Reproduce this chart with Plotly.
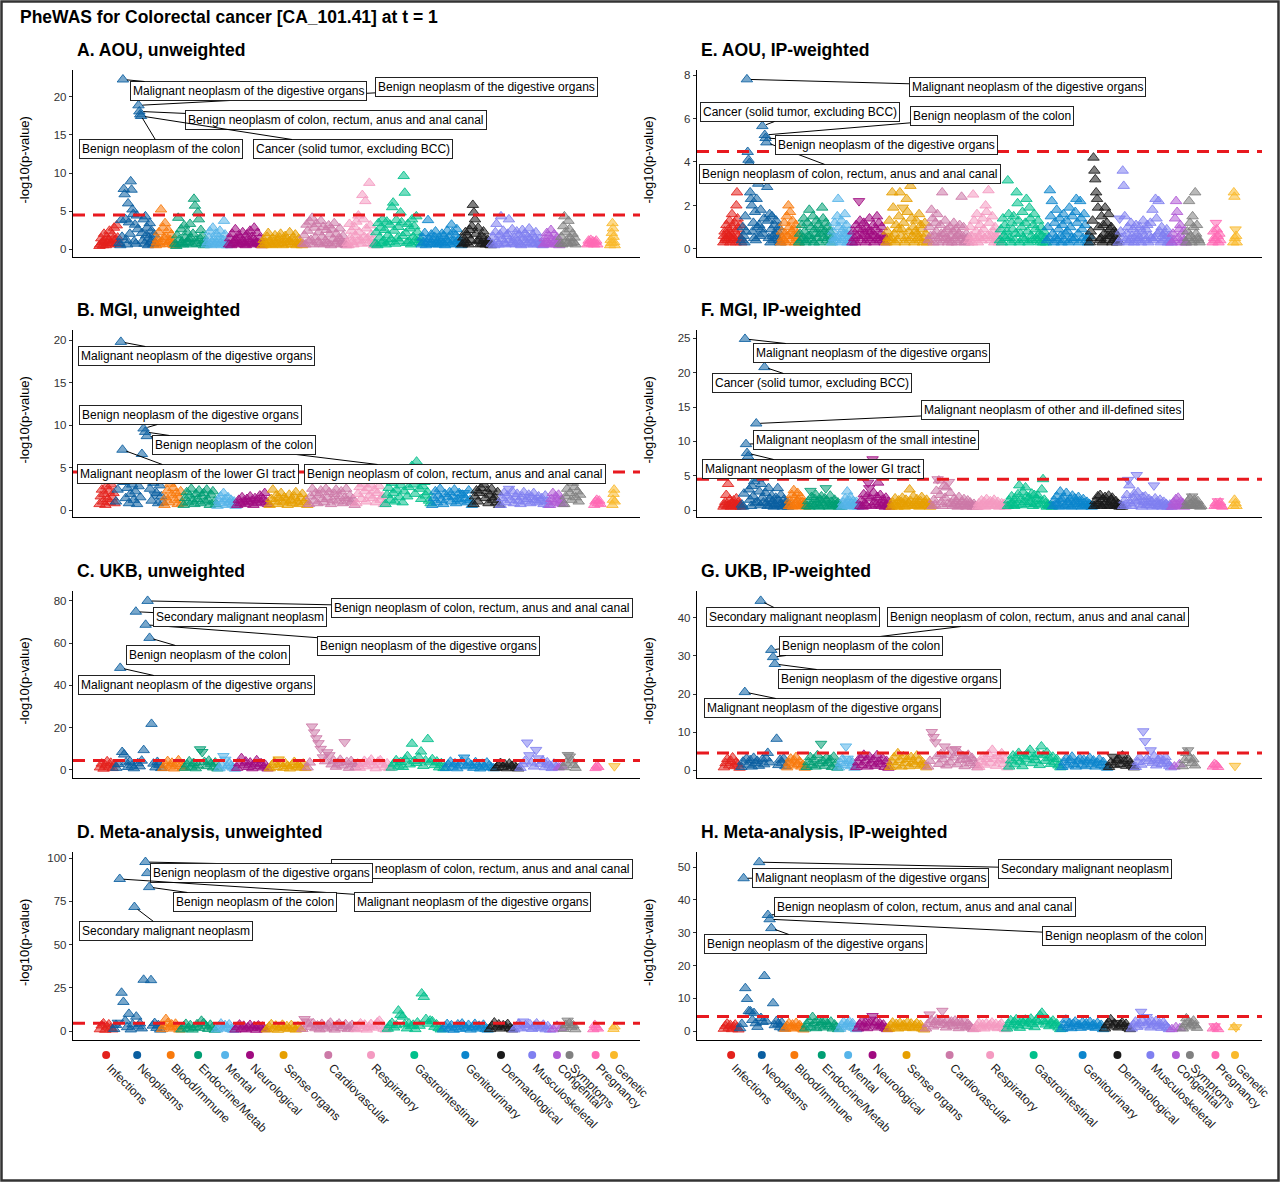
import plotly.graph_objects as go

# ---------------------------------------------------------------- data
CATEGORIES = ["Infections", "Neoplasms", "Blood/Immune", "Endocrine/Metab", "Mental",
              "Neurological", "Sense organs", "Cardiovascular", "Respiratory",
              "Gastrointestinal", "Genitourinary", "Dermatological", "Musculoskeletal",
              "Congenital", "Symptoms", "Pregnancy", "Genetic"]

PANEL_TITLES = ["A. AOU, unweighted", "E. AOU, IP-weighted",
                "B. MGI, unweighted", "F. MGI, IP-weighted",
                "C. UKB, unweighted", "G. UKB, IP-weighted",
                "D. Meta-analysis, unweighted", "H. Meta-analysis, IP-weighted"]

MAIN_TITLE = "PheWAS for Colorectal cancer [CA_101.41] at t = 1"
Y_TITLE = "-log10(p-value)"
THRESHOLD = 4.48

# number of phecodes tested per category (sets the width of each category block)
N_A = [70, 127, 68, 110, 78, 117, 142, 155, 97, 162, 142, 104, 181, 58, 57, 38, 18]
N_B = [56, 168, 66, 117, 68, 112, 136, 164, 101, 161, 143, 94, 171, 49, 60, 26, 10]
N_C = [56, 161, 74, 119, 60, 112, 130, 179, 109, 186, 172, 84, 130, 20, 46, 14, 4]
N_D = [49, 164, 66, 122, 63, 108, 122, 185, 108, 189, 161, 84, 130, 40, 46, 21, 7]
N_E = [65, 136, 63, 116, 70, 119, 147, 142, 107, 164, 150, 100, 186, 51, 49, 30, 14]
N_F = [64, 164, 63, 122, 63, 108, 143, 157, 105, 157, 143, 101, 171, 49, 56, 31, 14]
N_G = [61, 161, 68, 114, 60, 119, 133, 179, 105, 186, 164, 94, 130, 35, 49, 25, 14]
N_H = [57, 158, 70, 122, 63, 108, 130, 172, 112, 193, 150, 94, 137, 42, 56, 25, 14]

# -log10(p) per phecode, in phecode order; negative sign = inverse association (down triangle)
VALS_A = [
    [0.4, 0.6, 1.4, 0.9, 0.5, 2.0, 1.1, 0.5, 1.6, 0.8, 1.1, 2.4, 0.6, 0.8, 1.9, 1.3, 2.8, 1.2, 0.7, 3.1, 1.5, 0.7],
    [0.8, 0.5, 3.8, 1.6, 22.3, 7.9, 7.2, 3.9, 1.2, 0.6, 6.0, 3.5, 2.0, 8.9, 7.8, 5.2, 4.6, 1.0, 3.2, 0.7, 4.4, 2.6, 18.9, 18.1, 17.7, 17.5, 2.1, 1.1, 3.9, 0.7, 4.3, 1.8, 2.8, 0.5, 1.5, 3.4, 0.9, 2.4, 1.3, 0.6, 1.9, 0.8],
    [0.5, 0.9, 1.3, 2.2, 0.6, 5.2, 1.0, 2.8, 1.5, 3.4, 1.6, 0.7, 2.5, 0.9, 1.2, 1.9, 0.6, 1.0, 0.5],
    [0.7, 0.4, 1.8, 4.1, 1.2, 0.6, 2.6, 0.9, 0.6, 3.1, 1.5, 0.8, 2.2, 0.9, 1.3, 3.3, 1.4, 0.6, 2.0, 6.6, 5.7, 1.1, 0.7, 4.8, 3.9, 1.4, 2.5, 0.8, 1.7, 0.5, 1.0, 0.6],
    [0.6, 0.9, 1.5, 2.3, 0.5, 0.9, 2.8, 1.3, 0.6, 2.0, 0.7, 1.1, 1.6, 2.4, 0.8, 0.5, 1.2, 3.7, 1.9, 0.9, 0.5, 0.7],
    [0.6, 1.4, 0.5, 2.0, 0.8, 1.1, 2.6, 1.2, 0.6, 1.8, 0.7, 1.5, 0.9, 2.2, 1.0, 0.6, 0.5, 1.9, 1.3, 0.8, 2.4, 0.9, 1.6, 0.6, 2.8, 1.1, 0.7, 2.1, 0.8, 1.4, 0.6, 0.5],
    [0.5, 1.2, 0.8, 0.6, 1.6, 2.1, 1.0, 0.6, 0.5, 1.4, 0.9, 1.8, 0.6, 1.1, 0.7, 1.5, 2.0, 0.8, 0.5, 1.2, 1.7, 0.6, 1.3, 0.9, 2.2, 0.9, 0.6, 1.5, 1.0, 1.9, 0.5, 0.7, 1.3, 0.8, 0.6, 0.5],
    [0.7, 1.8, 0.6, 3.2, 2.4, 1.0, 3.6, 1.2, 4.1, 0.6, 2.8, 1.5, 3.3, 0.9, 2.2, 0.7, 3.7, 1.6, 2.9, 0.6, 1.1, 2.5, 0.8, 3.1, 1.9, 0.5, 2.6, 1.3, 3.4, 0.7, 2.0, 1.0, 1.4, 2.7, 0.6, 1.0, 1.7, 0.8, 0.6, 0.5],
    [0.8, 0.5, 3.3, 1.5, 2.4, 0.9, 0.6, 2.9, 1.8, 3.6, 1.0, 4.4, 2.2, 1.2, 0.7, 7.1, 3.9, 1.6, 6.3, 2.7, 1.4, 0.8, 8.7, 3.1, 1.9, 1.1, 0.7, 0.5],
    [0.7, 2.2, 0.5, 3.4, 1.5, 2.8, 0.8, 3.9, 1.1, 2.5, 0.6, 3.6, 1.8, 0.9, 3.2, 1.3, 5.5, 6.1, 2.4, 0.7, 3.8, 1.4, 2.9, 1.0, 4.8, 3.5, 1.7, 9.6, 7.4, 2.1, 0.8, 3.3, 1.0, 2.7, 0.6, 3.9, 1.6, 3.0, 1.2, 4.3, 2.2, 0.9, 1.4, 0.8],
    [0.6, 1.5, 0.9, 2.1, 0.5, 0.9, 3.8, 1.3, 0.7, 1.9, 0.7, 1.2, 1.6, 2.3, 0.6, 1.0, 0.6, 1.4, 0.9, 2.0, 0.8, 1.7, 0.5, 1.2, 2.4, 0.9, 1.5, 0.6, 3.2, 2.2, 1.1, 0.7, 1.8, 2.6, 1.0, 1.3, 0.8, 0.5],
    [0.6, 1.5, 0.8, 2.2, 0.9, 1.8, 0.6, 2.5, 1.2, 3.0, 5.8, 4.8, 3.9, 2.0, 1.0, 2.8, 1.1, 0.6, 1.7, 0.7, 2.3, 1.4, 0.6, 0.8, 1.2, 1.0, 0.6, 0.5],
    [0.7, 1.6, 0.5, 2.2, 3.3, 1.0, 0.6, 1.9, 4.3, 1.3, 2.4, 0.8, 0.6, 1.7, 2.0, 3.9, 1.2, 0.7, 2.6, 0.9, 1.5, 0.6, 2.3, 1.1, 1.8, 0.7, 0.5, 2.5, 1.4, 2.0, 0.9, 0.6, 1.6, 2.7, 1.2, 0.8, 1.9, 0.6, 1.4, 2.2, 1.0, 0.6, 1.3, 0.8, 0.6, 0.5],
    [0.6, 1.4, 0.8, 2.1, 0.9, 1.7, 0.6, 2.5, 1.2, 0.7, 1.9, 1.0, 0.6, 1.5, 0.8, 0.5],
    [0.7, 1.6, 0.6, 3.0, 4.3, 2.2, 1.1, 0.7, 3.7, 2.6, 1.4, 0.8, 2.0, 0.9, 1.5, 0.6],
    [0.6, 1.1, 0.8, 1.2, 0.7, 1.0, 0.6, 0.9, 1.1, 0.6],
    [0.5, 1.2, 0.8, 2.1, 3.4, 2.7, 1.6, 0.9, 0.5],
]
VALS_B = [
    [0.7, 1.6, 2.4, 1.0, 1.9, 0.6, 2.8, 1.3, 2.2, 0.9, 3.0, 1.5, 2.0, 0.8],
    [1.0, 2.4, 3.5, 19.8, 7.1, 3.3, 1.4, 2.6, 0.8, 1.9, 3.0, 1.2, 2.2, 0.7, 2.8, 1.5, 6.6, 9.6, 9.2, 8.7, 4.2, 2.5, 1.1, 3.2, -1.8, 2.0, 0.8, 2.9, 1.6, 0.9],
    [0.6, 1.5, 2.3, 0.9, 3.1, 1.8, 2.6, 1.2, 2.0, 0.7, 1.4, 2.2, 0.8],
    [0.6, 1.4, 2.1, 0.9, 1.7, 2.5, 1.1, 0.7, 1.9, 1.3, 2.3, 0.8, 1.6, 2.0, 1.0, 2.4, 1.2, 0.6, 1.8, 2.2, 1.0, 0.7],
    [0.5, 1.1, 1.6, 0.8, 2.0, 1.3, 0.6, 1.5, 0.9, 1.2, 0.7, 1.0, 0.5],
    [0.6, 1.2, 0.8, 1.5, 1.0, 0.7, 1.3, 0.9, 1.6, 1.1, 0.6, 1.4, 0.8, 1.2, 1.7, 0.9, 1.3, 2.0, 1.0, 0.7],
    [0.6, 1.3, 2.4, 1.0, 1.7, 0.7, 1.4, 2.0, 0.9, 1.5, 1.1, 0.6, 1.8, 1.2, 0.8, 1.6, 2.1, 1.0, 0.7, 1.4, 1.9, 0.9, 1.2, 0.6],
    [0.7, 1.6, 2.5, 1.1, 2.0, 0.8, 1.8, 2.3, 1.3, 0.9, 2.5, 1.5, 2.1, 0.7, 1.2, 1.9, 2.4, 1.0, 1.6, 2.2, 0.8, 1.4, 2.5, 1.1, 1.7, 0.9, 1.3, 0.6],
    [0.8, 1.9, 2.7, 1.3, 3.1, 2.2, 1.0, 2.6, 1.7, 3.0, 1.4, 2.3, 0.9, 2.0, 2.8, 1.2, 1.6, 0.7],
    [0.7, 1.8, 2.6, 1.2, 3.2, 2.0, 1.0, 2.4, 3.7, 1.5, 2.9, 0.9, 2.2, 3.4, 1.6, 2.7, 4.3, 5.2, 3.0, 1.9, 5.7, 3.5, 2.5, 1.3, 2.8, 3.3, 1.7, 2.1, 1.1, 0.8],
    [0.6, 1.4, 2.2, 0.9, 1.7, 2.5, 1.2, 0.7, 1.9, 3.5, 1.5, 2.1, 1.0, 1.6, 2.4, 0.8, 1.3, 2.0, 1.1, 1.8, -2.0, 1.4, 0.9, 2.3, 1.2, 0.6],
    [0.7, 1.6, 2.3, 1.0, 2.0, 2.6, 3.5, 3.0, 1.4, 2.2, 0.8, 1.8, 2.5, 1.2, 1.5, 0.9, 2.1, 0.6],
    [0.6, 1.4, 2.0, 0.9, 1.7, -2.5, 1.2, 2.2, 0.8, 1.5, 1.9, 1.1, 0.7, 1.6, 2.1, 1.0, 1.3, 1.8, 0.8, 1.5, 2.0, 1.2, 0.9, 1.6, 1.1, 1.4, 0.7, 1.7, 1.0, 0.6],
    [0.6, 1.3, 2.0, 0.9, 1.6, 1.1, 1.8, 0.8, 1.2, 0.7],
    [0.7, 1.6, 2.5, 3.5, 2.0, 1.2, 3.2, 2.7, 1.5, 2.2, 1.0, 1.8],
    [0.6, 1.0, 1.2, 0.8, 1.1, 0.7],
    [0.6, 1.2, 1.9, 2.4, 1.0],
]
VALS_C = [
    [1.2, 3.0, 0.6, 2.2, 4.1, 1.5, 3.4, 0.9, 2.6],
    [1.0, 2.8, 48.3, 8.5, 7.3, 3.6, 1.4, 4.0, 2.1, 0.8, 74.9, 3.2, 1.7, 4.4, 9.4, 68.7, 80.0, 62.5, 21.8, 3.0, 1.2, 3.8, 2.4, 0.9],
    [0.9, 2.5, 4.2, 1.6, 3.4, 0.7, 2.8, 4.6, 1.9, 1.1],
    [1.0, 2.6, 4.1, 1.5, 3.3, 0.8, 2.2, -9.8, -8.5, 3.8, 1.8, 4.4, 2.9, 1.2, 3.5, 0.7],
    [0.8, 2.4, -6.6, -4.9, 1.6, 3.3, 2.0, 1.1, 0.6],
    [1.0, 3.1, 5.6, 2.2, 4.0, 1.4, 3.5, 0.8, 2.7, 4.6, 1.8, 3.2, 1.2, 2.4, 0.7],
    [0.8, 2.3, 3.6, 1.4, -5.0, 2.8, 1.0, 3.1, 1.9, 0.7, 2.5, 3.8, 1.5, 2.2, 1.1, 3.0, 0.9],
    [1.2, 3.5, -20.6, -17.8, -15.0, -12.7, -10.0, -6.0, 4.1, -8.4, -7.0, 2.6, 4.4, 1.5, 3.2, 4.8, 2.1, -13.2, 3.8, 1.0, 4.2, 2.7, 1.4, 3.0],
    [1.0, 2.8, 4.3, 1.7, 3.6, 4.9, 2.2, 0.8, 3.9, 4.6, 2.5, 1.3, 3.1, 0.9],
    [1.1, 3.0, 4.6, 2.0, 3.8, 1.4, 4.9, 6.5, 2.6, 12.4, 4.2, 3.3, 6.0, 8.7, 1.9, 4.5, 14.6, 3.6, 5.1, 2.3, 4.0, 1.2, 3.2, 0.9],
    [0.9, 2.6, 3.9, 1.5, 3.1, 0.8, 2.2, 4.0, -5.9, 1.7, 3.4, 2.4, 1.0, 3.7, 2.0, 0.7, 2.9, 1.3, 3.5, 2.1, 1.2, 0.8],
    [0.9, 2.2, 3.3, 1.4, 2.7, 0.8, 3.0, 1.9, 2.4, 1.1, 0.7],
    [1.0, 2.7, 4.2, -13.0, -7.0, 3.5, 1.6, -9.5, -5.5, 2.9, 4.4, 1.3, 3.6, 2.2, 0.9, 3.0, 1.4],
    [1.2, 2.0],
    [1.3, 3.4, -7.1, -6.4, 4.5, 2.4, 1.0],
    [0.9, 2.0, 1.4],
    [-1.8],
]
VALS_D = [
    [1.0, 3.2, 4.4, 0.7, 2.5, 3.8, 1.6, 0.9],
    [1.2, 3.5, -4.8, 87.9, 22.1, 16.8, 5.9, 2.2, 9.9, 0.9, 3.8, 71.7, 8.3, 2.6, 4.4, 1.5, 29.6, 97.7, 91.3, 83.2, 29.4, 3.1, 4.6, 1.8, 3.4, 0.8],
    [1.1, 3.0, 6.9, 4.6, 2.2, 3.8, 1.4, 4.2, 2.6, 0.8],
    [0.9, 2.7, 4.1, 1.5, 3.4, 0.8, 2.3, 3.9, 1.8, 5.9, 4.6, 3.0, 1.2, 3.6, 2.0, 0.7],
    [0.9, 2.6, 4.3, 1.4, 3.4, 2.0, 3.8, 1.1, 0.7],
    [0.8, 2.4, 3.7, 1.3, 3.0, 0.9, 2.1, 3.5, 1.6, 2.7, 0.7, 3.2, 1.9, 2.5, 1.0],
    [0.9, 2.5, 3.9, 1.4, 3.1, 0.7, 2.2, 3.6, 1.8, 2.8, 1.1, 3.4, 2.0, 0.8, 2.6, 1.3],
    [1.2, -6.9, -5.5, 3.8, 2.4, 4.5, 1.6, 3.2, 0.9, 4.1, 2.7, 1.4, 3.6, 4.8, 2.0, 0.8, 3.3, 4.3, 1.8, 2.9, 3.9, 1.1, 2.5, 3.5, 1.5],
    [1.0, 2.9, 4.4, 1.6, 3.7, 0.8, 2.4, 4.0, 1.9, 3.2, 4.9, 5.9, 2.7, 1.3, 0.9],
    [1.3, 3.5, 4.7, 2.0, 3.3, 11.8, 9.3, 8.3, 3.9, 1.5, 4.4, 2.8, 3.6, 1.1, 4.9, 3.0, 21.7, 19.7, 6.9, 4.2, 6.0, 5.6, 2.4, 3.8, 1.7, 0.9],
    [0.9, 2.6, 4.0, 1.5, 3.3, 0.7, 2.2, 3.8, 1.2, 4.3, 2.7, 1.8, 3.5, 0.8, 2.4, 4.1, 1.4, 3.0, 2.0, 3.6, 1.1, 0.8],
    [1.1, 3.0, 4.9, 2.2, 3.8, 1.4, 3.3, 2.6, 4.0, 1.7, 0.9],
    [0.9, 2.6, 4.2, 1.5, -5.5, 3.4, 2.0, 3.9, 1.2, 3.0, 4.4, 1.8, 2.5, 3.6, 1.0, 2.8, 0.8],
    [1.0, 3.0, 1.8],
    [1.2, 3.5, -6.0, 4.6, 2.4, 3.2, 1.0],
    [1.0, 3.5, 2.2, 1.4],
    [1.2, 2.6],
]
VALS_E = [
    [0.3, 0.6, 0.8, 0.4, 0.5, 1.1, 0.7, 0.4, 0.9, 0.6, 1.3, 0.3, 0.7, 0.5, 1.6, 1.0, 0.4, 0.5, 1.2, 0.8, 0.3, 2.0, 2.6, 1.4, 0.6, 0.9, 0.4, 1.1, 0.5, 0.3],
    [0.4, 1.0, 0.6, 0.3, 1.5, 0.8, 7.8, 4.46, 4.1, 3.95, 2.6, 2.3, 2.0, 0.8, 1.2, 0.5, 1.7, 0.4, 2.3, 1.0, 3.0, 1.1, 0.6, 1.8, 0.9, 5.65, 0.7, 1.4, 5.24, 5.1, 4.9, 2.85, 1.3, 0.5, 1.6, 0.3, 0.9, 1.5, 0.6, 0.4, 1.1, 0.7, 1.3, 0.5, 0.8, 1.0, 0.4, 0.3],
    [0.3, 0.8, 0.5, 0.4, 1.2, 0.7, 0.3, 1.5, 0.6, 2.0, 1.0, 1.7, 0.4, 0.8, 1.3, 0.6, 0.9, 0.3, 1.1, 0.5, 0.7, 0.3],
    [0.3, 0.7, 0.4, 1.1, 0.5, 1.4, 0.8, 0.3, 0.4, 1.2, 0.6, 1.8, 0.6, 1.0, 0.4, 1.5, 0.3, 0.9, 0.7, 1.3, 0.5, 1.1, 0.3, 0.7, 0.9, 1.9, 1.4, 0.5, 0.8, 1.2, 0.4, 1.0, 0.6, 0.8, 0.3, 0.5],
    [0.3, 0.8, 0.5, 1.2, 0.4, 0.5, 1.5, 2.3, 1.0, 0.6, 0.3, 1.3, 0.4, 0.9, 0.7, 1.6, 0.7, 1.1, 0.3, 0.5, 0.8, 0.6, 0.4, 0.3],
    [0.3, 0.8, 0.5, 0.3, 1.1, 0.6, 0.9, -2.2, 1.3, 0.4, 0.6, 0.9, 1.2, 0.7, 0.3, 1.0, 0.5, 0.8, 1.4, 0.4, 0.8, 0.6, 1.1, 0.3, 0.6, 0.9, 1.5, 0.5, 1.2, 0.4, 0.7, 1.0, 0.4, 0.6, 0.3, 0.5],
    [0.3, 0.8, 0.5, 1.3, 0.4, 0.5, 2.6, 1.9, 0.7, 0.3, 1.1, 0.4, 0.9, 1.5, 2.6, 0.6, 0.9, -1.9, 1.2, 0.3, 0.5, 2.3, 1.7, 0.8, 0.4, 2.9, 1.4, 0.6, 1.0, 0.3, 0.8, 1.3, 0.7, 0.5, 1.6, 0.4, 1.1, 0.9, 0.3, 0.5, 1.2, 0.7, 0.3, 0.4],
    [0.4, 1.0, 0.6, 1.8, 1.4, 0.3, 0.6, 1.2, 0.8, 1.6, 0.3, 0.5, 1.1, 0.7, 2.6, 0.4, 0.7, 1.3, 0.5, 0.9, 0.3, 0.4, 1.0, 0.6, 0.3, 0.8, 1.2, 0.5, 0.9, 0.3, 0.6, 0.7, 1.1, 0.4, 2.4, 0.6, 1.0, 0.3, 0.4, 0.7, 0.5, 0.3],
    [0.4, 1.0, 0.6, 0.3, 2.5, 1.3, 0.5, 0.8, 1.6, 0.3, 0.5, 1.1, 0.7, 0.4, 1.4, 0.9, 0.5, 2.0, 1.7, 0.6, 2.7, 1.2, 0.4, 0.6, 1.5, 0.8, 0.3, 1.0, 0.5, 0.7, 0.4, 0.3],
    [0.4, 0.9, 0.3, 1.4, 0.6, 1.1, 0.5, 0.8, 3.15, 1.6, 0.5, 0.3, 1.2, 0.9, 1.5, 0.4, 0.7, 2.6, 2.1, 1.3, 0.3, 0.7, 1.0, 1.7, 0.5, 0.4, 1.2, 2.3, 0.8, 0.3, 1.9, 1.4, 0.6, 0.4, 1.1, 1.6, 0.9, 0.5, 0.4, 1.3, 0.7, 0.3, 1.0, 0.6, 0.3, 0.8, 0.5, 0.3],
    [0.4, 1.0, 0.5, 2.7, 1.5, 2.2, 0.7, 0.3, 1.2, 0.5, 1.8, 0.4, 0.9, 1.4, 0.6, 0.3, 1.1, 1.6, 0.4, 0.7, 1.3, 0.8, 0.3, 1.9, 1.0, 0.5, 1.5, 0.4, 0.5, 1.7, 2.3, 1.2, 0.7, 0.3, 2.2, 1.4, 0.9, 0.5, 1.6, 1.1, 0.4, 0.5, 0.3, 0.6],
    [0.3, 0.8, 0.5, 1.3, 4.2, 3.6, 3.2, 2.6, 2.3, 1.9, 1.0, 0.4, 0.5, 1.5, 0.3, 1.1, 0.7, 1.9, 0.4, 1.2, 0.6, 1.6, 0.9, 0.6, 1.0, 0.3, 0.4, 0.8, 0.5, 0.7, 0.3, 0.4],
    [0.3, -1.4, 0.8, 0.5, 3.6, 2.9, 1.5, 0.4, 0.7, 1.0, 0.3, 0.4, 1.2, 0.6, 0.9, 0.3, 0.5, 1.1, 0.7, 0.4, 0.5, 1.0, 0.3, 0.8, 1.3, 0.6, 0.4, 0.9, 1.1, 0.3, 0.6, 1.2, 0.5, 1.8, 0.4, 0.5, 2.3, 1.4, 0.7, 2.2, 0.8, 0.3, 1.0, 0.6, 0.4, 0.7, 0.5, 0.9, 0.3, 0.6, 0.4, 0.3],
    [0.3, 0.7, 0.4, 1.4, 2.2, 1.7, 0.5, 0.9, 1.1, 0.3, 0.5, 0.8, 0.4, 0.3],
    [0.3, 0.8, 0.5, 2.2, 1.2, 0.6, 0.3, 1.5, 1.0, 0.4, 2.6, 0.7, 1.1, 0.5, 0.4, 0.3],
    [0.3, 0.8, 0.5, 0.4, -1.2, 0.9, 0.6, 0.3, 0.7, 0.4],
    [0.3, 2.6, 2.4, 0.5, -0.9, 0.6, 0.3],
]
VALS_F = [
    [0.5, 0.8, 1.2, 2.2, 0.6, 3.8, 0.8, 1.5, 0.5, 1.0, 0.6, 1.4, 0.9, 0.5, 1.7, 0.7, 1.1, 0.6, 0.8, 0.5],
    [0.8, 0.5, 2.4, 24.9, 9.6, 8.3, 7.8, 3.0, 1.5, 0.6, 3.5, 2.0, 4.2, 1.0, 12.6, 1.2, 4.6, 2.7, 0.7, 3.8, 1.8, 1.1, 20.8, 2.5, 1.0, 0.6, 3.2, 1.6, 0.7, 2.1, 1.3, 0.5, 0.9, 1.8, 0.6, 3.2, 1.4, 0.8, 2.2, 0.8, 0.5, 1.5, 1.0, 0.6, 1.2, 0.5],
    [0.6, 1.4, 0.8, 2.2, 0.5, 2.9, 1.8, 1.0, 0.6, 2.5, 1.5, 0.8, 2.0, 0.6, 1.2, 0.7, 1.0, 0.5, 0.6],
    [0.6, 1.3, 0.5, -2.8, 1.9, 0.9, 0.6, 1.6, 2.2, 1.1, 0.7, 0.5, 1.5, 2.0, 1.0, 0.6, 1.7, -3.2, 1.4, 0.8, 0.5, 2.1, 1.2, 0.6, 0.9, 1.5, 0.7, 0.9, 1.1, 0.5, 0.7, 0.5],
    [0.5, 1.1, 0.7, 1.7, 0.8, 2.7, 0.6, 1.4, 1.9, 1.0, 0.6, 1.3, 0.5, 0.9, 1.2, 0.7, 0.5, 0.6],
    [0.6, 1.4, 0.5, 2.3, 1.0, 0.7, 2.0, -4.0, -3.2, 1.7, 0.6, -7.4, 2.5, 1.2, 0.8, 1.9, 4.0, 0.8, 2.2, 0.6, 1.5, 1.0, 0.5, 1.8, 0.7, 1.2, 0.5, 0.6],
    [0.5, 1.1, 0.7, 1.7, 0.8, 0.5, 1.4, 0.6, 1.2, 1.8, 0.9, 0.5, 1.5, 0.7, 1.0, 3.0, 1.3, 0.6, 2.0, 1.0, 0.7, 1.6, 0.8, 0.5, 1.3, 1.9, 0.6, 1.1, 0.8, 1.5, 0.7, 1.0, 0.5, 0.6],
    [0.6, 1.5, 0.8, 2.8, -4.5, 4.3, 2.2, 1.2, 0.6, 3.5, 1.8, 3.3, 0.9, -4.1, 2.5, 1.0, 0.6, 1.6, 0.8, 1.3, 0.5, 1.9, 0.7, 1.2, 0.6, 1.6, 0.9, 0.5, 1.4, 0.6, 1.1, 0.8, 0.5, 0.9, 0.6, 0.5],
    [0.5, 1.0, 0.6, 1.4, 0.7, 1.2, 0.5, 1.6, 0.9, 0.6, 1.3, 0.8, 1.1, 1.5, 0.6, 0.8, 1.2, 0.5, 0.6, 1.0, 0.7, 0.9, 0.5, 0.6],
    [0.6, 1.4, 0.8, 2.0, 1.0, 0.6, 1.7, 0.8, 2.3, 3.6, 1.5, 0.7, 2.6, 1.2, 3.3, 2.0, 0.9, 1.8, 1.1, 2.4, 0.6, 2.2, 0.9, 1.6, 2.1, 0.7, 1.3, 3.0, 4.5, 1.5, 1.0, 0.5, 0.8, 0.6, 0.7, 0.5],
    [0.6, 1.4, 0.8, 2.0, 1.0, 0.5, 2.7, 1.6, 0.8, 1.8, 0.6, 2.5, 1.2, 0.7, 1.5, 0.5, 2.1, 0.9, 1.7, 1.1, 0.6, 1.9, 1.3, 0.8, 0.5, 1.6, 1.0, 0.7, 1.2, 0.6, 0.9, 0.7, 0.5, 0.6],
    [0.6, 1.3, 0.8, 2.0, 1.0, 2.2, 0.6, 1.6, 0.8, 1.9, 1.2, 0.6, 2.1, 0.7, 1.5, 1.8, 1.0, 0.6, 1.3, 0.7, 0.9, 0.5, 0.7, 0.5],
    [0.6, 1.4, 0.8, 2.2, -4.4, 3.6, 1.0, 0.6, 1.8, 2.4, 1.3, -5.1, 2.6, 1.5, 0.8, 0.5, 1.9, 1.2, 2.0, 0.7, 1.0, 1.6, 0.7, 1.3, 0.5, -3.6, 1.7, 1.1, 0.6, 0.8, 1.5, 0.9, 0.5, 1.2, 0.7, 0.9, 0.5, 0.6, 0.8, 0.5],
    [0.5, 1.1, 0.7, 1.6, 0.8, 1.8, 0.6, 1.2, 0.7, 1.0, 0.5, 0.6],
    [0.6, 1.2, 0.7, 1.7, 0.9, -2.0, 0.6, 1.5, 1.0, 0.7, 1.3, 0.7, 0.5, 0.6],
    [0.6, 1.0, 0.7, -1.3, 0.8, 1.1, 0.6, 0.5],
    [0.6, 1.5, 1.0, 0.6],
]
VALS_G = [
    [0.7, 1.8, 2.9, 1.2, 2.4, 3.3, 1.0, 2.0, 1.5, 0.6],
    [0.8, 2.2, 20.5, 3.0, 1.4, 2.6, 0.9, 3.2, 1.8, 2.4, 1.1, 44.5, 2.8, 1.5, 3.1, 4.5, 2.0, 31.6, 29.7, 27.9, 8.2, 1.3, 2.7, 1.9, 3.0, 1.0],
    [0.7, 1.9, 3.0, 1.2, 2.5, 3.4, 1.6, 2.2, 0.9, 1.4, 0.6],
    [0.8, 2.1, 3.4, 1.3, 2.8, 0.9, 3.9, 1.7, -6.9, 2.4, 1.1, 3.2, 1.9, 2.7, 0.8, 3.5, 1.5, 0.6],
    [0.7, 1.8, 2.9, 1.3, -6.2, -3.0, 2.4, 1.0, 1.9, 0.6],
    [0.8, 2.0, 3.2, 1.3, 4.0, 2.5, 0.9, 3.5, 1.7, 2.8, 1.1, 3.9, 2.2, 1.5, 3.0, 0.8, 2.4, 0.6],
    [0.8, 2.1, 3.3, 1.2, 4.4, 2.6, 0.9, 3.6, 1.8, 2.9, 1.0, 3.4, 2.2, 1.5, 3.8, 2.5, 1.1, 2.0, 1.4, 0.7],
    [0.9, 2.4, -10.0, -8.7, -7.3, 3.6, 1.6, 4.2, 2.8, -6.2, 1.2, 3.9, 2.0, -5.2, 3.3, -5.5, 1.5, 4.5, 2.6, 3.7, 1.0, 2.9, 4.0, 1.8, 3.2, 2.3, 1.3, 0.7],
    [0.8, 2.2, 3.5, 1.4, 2.9, 4.2, 1.9, 5.3, 3.0, 1.1, 3.7, 2.5, 4.4, 1.6, 2.8, 0.7],
    [0.9, 2.5, 3.8, 1.5, 3.2, 4.5, 2.2, 1.0, 3.6, 2.8, 4.1, 5.3, 1.8, 3.4, 2.6, 4.3, 1.3, 6.2, 3.9, 2.4, 4.6, 3.1, 1.6, 3.5, 2.0, 2.9, 1.2, 0.7],
    [0.8, 2.0, 3.1, 1.2, 2.6, 3.5, 1.6, 0.9, 2.3, 3.0, 1.4, 2.7, 1.0, 2.2, 3.2, 1.5, 2.5, 0.9, 1.9, 2.8, 1.3, 2.1, 1.0, 0.6],
    [0.8, 2.0, -3.5, 1.3, 2.6, 3.0, 1.6, 3.8, 2.3, 1.1, 2.8, 1.8, 1.2, 0.7],
    [0.8, 2.1, 3.3, 1.4, -10.2, -7.6, 3.0, 2.4, -5.2, 1.9, 3.6, 1.2, 2.7, 3.1, 1.6, 2.4, 3.4, 1.9, 1.1, 0.7],
    [0.9, 1.5],
    [1.0, 2.6, 4.5, -5.2, 3.2, 1.8, 2.8, 1.2],
    [0.9, 1.6, 1.3, 0.8],
    [-1.1],
]
VALS_H = [
    [0.7, 1.6, 2.3, 1.0, 1.9, 0.6, 1.4, 2.0, 1.1, 0.5],
    [0.9, 2.2, 46.6, 13.1, 9.8, 6.1, 6.0, 3.4, 5.5, 2.4, 1.3, 51.5, 4.0, 2.8, 16.8, 3.0, 35.4, 34.1, 31.4, 8.5, 1.8, 3.1, 2.2, 1.2, 2.6, 0.8],
    [0.7, 1.6, 2.4, 1.1, 2.0, 0.8, 2.5, 1.4, 1.8, 0.9, 0.5],
    [0.8, 2.0, 3.1, 1.3, 4.3, 2.5, 0.9, 3.4, 1.7, 2.8, 1.1, 3.2, 2.2, 1.5, 2.9, 0.8, 2.0, 1.2, 0.6],
    [0.7, 1.8, 2.8, 1.2, 2.2, 3.0, 1.5, 2.4, 1.0, 0.6],
    [0.8, 2.0, 3.0, 1.3, 2.6, 0.9, 2.3, -3.5, -4.6, 1.7, 2.8, 1.1, 2.4, 1.5, 2.0, 0.9, 0.6],
    [0.7, 1.8, 2.6, 1.1, 2.2, 0.8, 2.5, 1.5, 2.0, 1.0, 2.7, 1.3, 2.3, 0.9, 1.7, 2.4, 1.2, 1.9, 0.8, 0.5],
    [0.8, 2.2, -5.1, 3.3, 1.4, 2.8, 3.6, 1.9, 3.0, -6.2, 2.4, 1.1, 3.4, 2.0, 2.9, 1.5, 3.2, 2.5, 0.9, 2.7, 1.8, 3.1, 1.3, 2.3, 1.6, 1.0, 0.6],
    [0.7, 1.7, 2.5, 1.1, 2.1, 0.8, 2.4, 1.5, 1.9, 2.6, 1.2, 2.2, 0.9, 1.8, 2.3, 1.0, 0.6],
    [0.8, 2.1, 3.3, 1.4, 2.8, 3.6, 1.9, 1.0, 3.0, 2.4, 3.5, 1.6, 2.9, 3.8, 2.2, 1.2, 3.4, 2.7, 4.8, 5.6, 3.1, 2.0, 3.6, 1.5, 2.6, 3.2, 1.8, 2.3, 1.1, 0.6],
    [0.7, 1.9, 3.5, 1.2, 2.5, 0.9, 2.2, 2.9, 1.5, 2.0, 1.0, 2.7, 1.8, 2.4, 1.3, 2.8, 1.6, 2.1, 1.0, 2.5, 1.4, 1.9, 0.6],
    [0.8, 1.9, 2.7, 3.6, 1.4, 2.3, -2.5, 1.1, 2.0, 2.6, 1.5, 2.2, 1.0, 0.6],
    [0.8, 2.0, 2.9, 1.3, 2.4, -5.9, 3.2, 1.7, -4.3, 2.6, 1.1, 2.9, 2.0, 3.1, 1.5, 2.4, 1.0, 2.7, 1.8, 1.2, 0.6],
    [0.6, 1.2, 0.9],
    [0.8, 2.0, 3.9, 2.8, 1.4, 2.4, 3.2, 1.8, 1.0],
    [0.8, -1.5, 1.2, 0.6],
    [1.2, -1.2],
]

# labelled phecodes (text, -log10 p of the labelled point)
LABELS_A = ["Benign neoplasm of the digestive organs", "Malignant neoplasm of the digestive organs",
            "Benign neoplasm of colon, rectum, anus and anal canal", "Benign neoplasm of the colon",
            "Cancer (solid tumor, excluding BCC)"]
LABEL_VALS_A = [18.9, 22.3, 18.1, 17.7, 17.5]
LABELS_B = ["Malignant neoplasm of the digestive organs", "Benign neoplasm of the digestive organs",
            "Benign neoplasm of colon, rectum, anus and anal canal", "Benign neoplasm of the colon",
            "Malignant neoplasm of the lower GI tract"]
LABEL_VALS_B = [19.8, 9.6, 8.7, 9.2, 7.1]
LABELS_C = ["Benign neoplasm of colon, rectum, anus and anal canal", "Benign neoplasm of the digestive organs",
            "Secondary malignant neoplasm", "Benign neoplasm of the colon",
            "Malignant neoplasm of the digestive organs"]
LABEL_VALS_C = [80.0, 68.7, 74.9, 62.5, 48.3]
LABELS_D = ["Benign neoplasm of colon, rectum, anus and anal canal", "Benign neoplasm of the digestive organs",
            "Malignant neoplasm of the digestive organs", "Benign neoplasm of the colon",
            "Secondary malignant neoplasm"]
LABEL_VALS_D = [97.7, 91.3, 87.9, 83.2, 71.7]
LABELS_E = ["Malignant neoplasm of the digestive organs", "Benign neoplasm of colon, rectum, anus and anal canal",
            "Benign neoplasm of the colon", "Cancer (solid tumor, excluding BCC)",
            "Benign neoplasm of the digestive organs"]
LABEL_VALS_E = [7.8, 4.9, 5.24, 5.65, 5.1]
LABELS_F = ["Malignant neoplasm of the digestive organs", "Cancer (solid tumor, excluding BCC)",
            "Malignant neoplasm of other and ill-defined sites", "Malignant neoplasm of the small intestine",
            "Malignant neoplasm of the lower GI tract"]
LABEL_VALS_F = [24.9, 20.8, 12.6, 9.6, 8.3]
LABELS_G = ["Benign neoplasm of colon, rectum, anus and anal canal", "Secondary malignant neoplasm",
            "Benign neoplasm of the colon", "Benign neoplasm of the digestive organs",
            "Malignant neoplasm of the digestive organs"]
LABEL_VALS_G = [31.6, 44.5, 29.7, 27.9, 20.5]
LABELS_H = ["Secondary malignant neoplasm", "Malignant neoplasm of the digestive organs",
            "Benign neoplasm of the colon", "Benign neoplasm of colon, rectum, anus and anal canal",
            "Benign neoplasm of the digestive organs"]
LABEL_VALS_H = [51.5, 46.6, 34.1, 35.4, 31.4]

# ---------------------------------------------------------------- styling / layout config
CAT_COLORS = ["#E3211C", "#0A5EA0", "#F8790B", "#009E73", "#56B4E9", "#A00A80", "#E69F00",
              "#CC79A7", "#F49AC1", "#00C08B", "#0B85CC", "#1A1A1A", "#7F7FF0", "#B15BD6",
              "#808080", "#FF69B4", "#F9B92B"]

W, H = 1280, 1182
COL_PX = [(73, 640), (697, 1262)]
ROW_PX = [(70, 257), (330, 517), (591, 778), (852, 1040)]
FONT = "Liberation Sans, Arial, Helvetica, sans-serif"
MARKER_SIZE = 10

# panel order: A,E,B,F,C,G,D,H
PANELS = [
    dict(row=0, col=0, n=N_A, vals=VALS_A, gaps=(38, 42), yr=(-1.05, 23.55), dt=5,
         labels=LABELS_A, lv=LABEL_VALS_A, boxes=[(486, 87), (248, 91), (336, 120), (161, 149), (353, 149)]),
    dict(row=0, col=1, n=N_E, vals=VALS_E, gaps=(42, 43), yr=(-0.37, 8.23), dt=2,
         labels=LABELS_E, lv=LABEL_VALS_E, boxes=[(1027, 87), (850, 174), (992, 116), (800, 112), (886, 145)]),
    dict(row=1, col=0, n=N_B, vals=VALS_B, gaps=(44, 38), yr=(-0.82, 21.2), dt=5,
         labels=LABELS_B, lv=LABEL_VALS_B, boxes=[(196, 356), (190, 415), (455, 474), (234, 445), (188, 474)]),
    dict(row=1, col=1, n=N_F, vals=VALS_F, gaps=(42, 35), yr=(-1.0, 26.2), dt=5,
         labels=LABELS_F, lv=LABEL_VALS_F, boxes=[(871, 353), (812, 383), (1052, 410), (866, 440), (813, 469)]),
    dict(row=2, col=0, n=N_C, vals=VALS_C, gaps=(63, 51), yr=(-3.8, 84.7), dt=20,
         labels=LABELS_C, lv=LABEL_VALS_C, boxes=[(482, 608), (428, 646), (240, 617), (208, 655), (196, 685)]),
    dict(row=2, col=1, n=N_G, vals=VALS_G, gaps=(56, 49), yr=(-2.1, 47.1), dt=10,
         labels=LABELS_G, lv=LABEL_VALS_G, boxes=[(1038, 617), (793, 617), (861, 646), (889, 679), (822, 708)]),
    dict(row=3, col=0, n=N_D, vals=VALS_D, gaps=(56, 49), yr=(-5.2, 103.5), dt=25,
         labels=LABELS_D, lv=LABEL_VALS_D, boxes=[(482, 869), (261, 873), (472, 902), (255, 902), (166, 931)]),
    dict(row=3, col=1, n=N_H, vals=VALS_H, gaps=(49, 49), yr=(-2.7, 54.6), dt=10,
         labels=LABELS_H, lv=LABEL_VALS_H, boxes=[(1085, 869), (870, 878), (1124, 936), (925, 907), (815, 944)]),
]


def rgba(hexc, a):
    h = hexc.lstrip("#")
    return "rgba(%d,%d,%d,%.2f)" % (int(h[0:2], 16), int(h[2:4], 16), int(h[4:6], 16), a)


fig = go.Figure()
layout_axes = {}
annotations = []
shapes = []

for k, P in enumerate(PANELS, start=1):
    xa = "x" if k == 1 else "x%d" % k
    ya = "y" if k == 1 else "y%d" % k
    x0p, x1p = COL_PX[P["col"]]
    ytp, ybp = ROW_PX[P["row"]]

    # category start positions
    starts, s = [], 0.0
    for i, n in enumerate(P["n"]):
        if i == 15:
            s += P["gaps"][0]
        if i == 16:
            s += P["gaps"][1]
        starts.append(s)
        s += n
    total = s
    inner = (x1p - x0p) - 26 - 25
    u = total / inner
    xr = (-26 * u, total + 25 * u)
    yr = P["yr"]

    pts = {}
    for c, vals in enumerate(P["vals"]):
        n = P["n"][c]
        m = len(vals)
        xs = [starts[c] + (j + 0.5) * n / m for j in range(m)]
        ys = [abs(v) for v in vals]
        sy = ["triangle-up" if v >= 0 else "triangle-down" for v in vals]
        for xv, yv in zip(xs, ys):
            pts.setdefault(round(yv, 3), (xv, yv, c))
        fig.add_trace(go.Scatter(
            x=xs, y=ys, mode="markers", xaxis=xa, yaxis=ya, showlegend=False,
            hoverinfo="skip",
            marker=dict(symbol=sy, size=MARKER_SIZE, color=rgba(CAT_COLORS[c], 0.55),
                        line=dict(color=rgba(CAT_COLORS[c], 0.85), width=1))))

    xd = [x0p / W, x1p / W]
    yd = [1 - ybp / H, 1 - ytp / H]
    xkey = "xaxis" if k == 1 else "xaxis%d" % k
    ykey = "yaxis" if k == 1 else "yaxis%d" % k
    xaxis = dict(domain=xd, range=list(xr), anchor=ya, showline=True, linecolor="black",
                 linewidth=1.4, showgrid=False, zeroline=False, ticks="", showticklabels=False,
                 automargin=False, fixedrange=True)
    if P["row"] == 3:
        mids = [starts[c] + P["n"][c] / 2 for c in range(len(CATEGORIES))]
        # category key: coloured dot (paper shape) + rotated name under the axis
        for c, mval in enumerate(mids):
            cx = x0p + (mval - xr[0]) / (xr[1] - xr[0]) * (x1p - x0p)
            cy = ybp + 15
            shapes.append(dict(type="circle", xref="paper", yref="paper",
                               x0=(cx - 4) / W, x1=(cx + 4) / W, y0=1 - (cy + 4) / H, y1=1 - (cy - 4) / H,
                               fillcolor=CAT_COLORS[c], line=dict(width=0), layer="above"))
        xaxis.update(showticklabels=True, tickvals=[m_ + 4 * u for m_ in mids], ticktext=CATEGORIES,
                     tickangle=45, ticks="outside", ticklen=15, tickcolor="rgba(0,0,0,0)",
                     tickfont=dict(size=12, color="#1a1a1a", family=FONT))
    layout_axes[xkey] = xaxis
    layout_axes[ykey] = dict(domain=yd, range=list(yr), anchor=xa, showline=True, linecolor="black",
                             linewidth=1.4, showgrid=False, zeroline=False, ticks="outside",
                             ticklen=3, tickcolor="#333", tick0=0, dtick=P["dt"],
                             tickfont=dict(size=11.5, color="#333", family=FONT),
                             automargin=False, fixedrange=True)

    # threshold line
    shapes.append(dict(type="line", xref="%s domain" % xa, yref=ya, x0=0, x1=1,
                       y0=THRESHOLD, y1=THRESHOLD, layer="above",
                       line=dict(color="#E8191F", width=3, dash="12px,8px")))

    # panel title
    annotations.append(dict(text="<b>%s</b>" % PANEL_TITLES[k - 1], xref="paper", yref="paper",
                            x=(x0p + 2) / W, y=1 - (ytp - 20) / H, xanchor="left", yanchor="middle",
                            showarrow=False, font=dict(size=17.6, color="black", family=FONT)))
    # y title
    annotations.append(dict(text=Y_TITLE, xref="paper", yref="paper",
                            x=(x0p - 49) / W, y=1 - ((ytp + ybp) / 2 - 3) / H, textangle=-90,
                            xanchor="center", yanchor="middle", showarrow=False,
                            font=dict(size=13, color="black", family=FONT)))

    # labels
    def to_data(px, py):
        xv = xr[0] + (px - x0p) / (x1p - x0p) * (xr[1] - xr[0])
        yv = yr[0] + (ybp - py) / (ybp - ytp) * (yr[1] - yr[0])
        return xv, yv

    for text, val, (bx, by) in zip(P["labels"], P["lv"], P["boxes"]):
        px_, py_, _ = pts[round(val, 3)]
        axv, ayv = to_data(bx, by)
        annotations.append(dict(x=px_, y=py_, xref=xa, yref=ya, ax=axv, ay=ayv, axref=xa, ayref=ya,
                                text=text, showarrow=True, arrowhead=0, arrowwidth=1,
                                arrowcolor="black", standoff=4, bgcolor="white",
                                bordercolor="#222", borderwidth=1, borderpad=2,
                                font=dict(size=12, color="black", family=FONT)))

annotations.insert(0, dict(text="<b>%s</b>" % MAIN_TITLE, xref="paper", yref="paper",
                           x=18 / W, y=1 - 17 / H, xanchor="left", yanchor="middle", showarrow=False,
                           font=dict(size=17.5, color="black", family=FONT)))

shapes.append(dict(type="rect", xref="paper", yref="paper", x0=1.5 / W, x1=1 - 1.5 / W,
                   y0=1.5 / H, y1=1 - 1.5 / H, line=dict(color="#333", width=2.5),
                   fillcolor="rgba(0,0,0,0)", layer="above"))

fig.update_layout(width=W, height=H, margin=dict(l=0, r=0, t=0, b=0, pad=0),
                  paper_bgcolor="white", plot_bgcolor="white", showlegend=False,
                  font=dict(family=FONT), annotations=annotations, shapes=shapes,
                  **layout_axes)

fig.write_html("out.html", config={"displayModeBar": False},
               post_script="document.body.style.margin='0px';document.body.style.overflow='hidden';")
